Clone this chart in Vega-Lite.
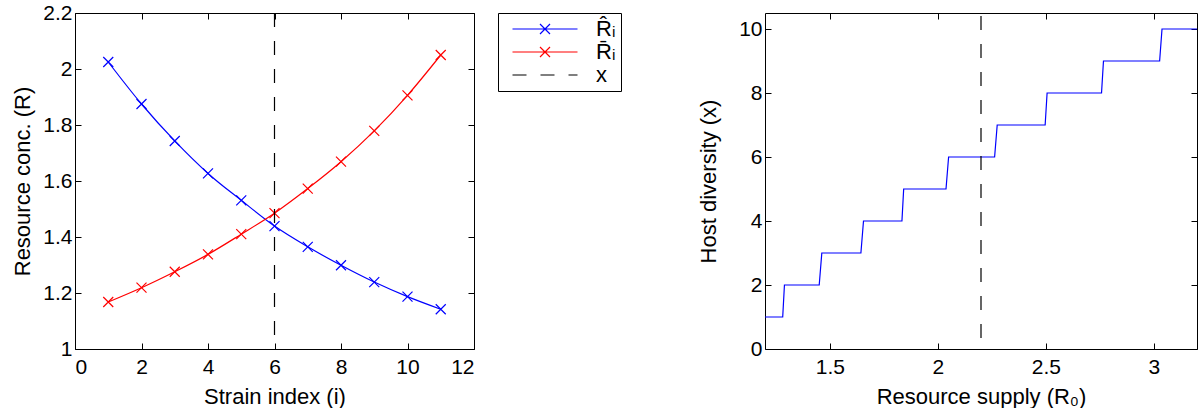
{
  "$schema": "https://vega.github.io/schema/vega-lite/v6.json",
  "background": "white",
  "padding": {"left": 11, "top": 1, "right": 0, "bottom": 0},
  "spacing": 75,
  "datasets": {
    "curves": [
      {"i": 1, "R": 2.025, "series": "R\u0302\u1d62"},
      {"i": 2, "R": 1.875, "series": "R\u0302\u1d62"},
      {"i": 3, "R": 1.743, "series": "R\u0302\u1d62"},
      {"i": 4, "R": 1.627, "series": "R\u0302\u1d62"},
      {"i": 5, "R": 1.531, "series": "R\u0302\u1d62"},
      {"i": 6, "R": 1.439, "series": "R\u0302\u1d62"},
      {"i": 7, "R": 1.365, "series": "R\u0302\u1d62"},
      {"i": 8, "R": 1.299, "series": "R\u0302\u1d62"},
      {"i": 9, "R": 1.239, "series": "R\u0302\u1d62"},
      {"i": 10, "R": 1.187, "series": "R\u0302\u1d62"},
      {"i": 11, "R": 1.142, "series": "R\u0302\u1d62"},
      {"i": 1, "R": 1.168, "series": "R\u0304\u1d62"},
      {"i": 2, "R": 1.219, "series": "R\u0304\u1d62"},
      {"i": 3, "R": 1.276, "series": "R\u0304\u1d62"},
      {"i": 4, "R": 1.338, "series": "R\u0304\u1d62"},
      {"i": 5, "R": 1.41, "series": "R\u0304\u1d62"},
      {"i": 6, "R": 1.485, "series": "R\u0304\u1d62"},
      {"i": 7, "R": 1.573, "series": "R\u0304\u1d62"},
      {"i": 8, "R": 1.669, "series": "R\u0304\u1d62"},
      {"i": 9, "R": 1.779, "series": "R\u0304\u1d62"},
      {"i": 10, "R": 1.906, "series": "R\u0304\u1d62"},
      {"i": 11, "R": 2.05, "series": "R\u0304\u1d62"}
    ],
    "steps": [
      {"R0": 1.2, "x": 1}, {"R0": 1.282, "x": 1},
      {"R0": 1.29, "x": 2}, {"R0": 1.451, "x": 2},
      {"R0": 1.463, "x": 3}, {"R0": 1.644, "x": 3},
      {"R0": 1.656, "x": 4}, {"R0": 1.834, "x": 4},
      {"R0": 1.842, "x": 5}, {"R0": 2.038, "x": 5},
      {"R0": 2.05, "x": 6}, {"R0": 2.263, "x": 6},
      {"R0": 2.275, "x": 7}, {"R0": 2.497, "x": 7},
      {"R0": 2.506, "x": 8}, {"R0": 2.758, "x": 8},
      {"R0": 2.767, "x": 9}, {"R0": 3.027, "x": 9},
      {"R0": 3.038, "x": 10}, {"R0": 3.2, "x": 10}
    ]
  },
  "config": {
    "font": "Liberation Sans",
    "view": {"stroke": "black", "strokeWidth": 1},
    "axis": {
      "domain": false, "grid": false,
      "tickColor": "black", "tickSize": -6, "tickWidth": 1,
      "labelFont": "Liberation Sans", "labelFontSize": 21, "labelColor": "black",
      "titleFont": "Liberation Sans", "titleFontSize": 22, "titleFontWeight": "normal", "titleColor": "black",
      "labelPadding": 9, "titlePadding": 8
    },
    "axisX": {"labelPadding": 13, "titlePadding": 9},
    "legend": {
      "orient": "right", "offset": 23,
      "strokeColor": "black", "fillColor": "white", "padding": 5,
      "labelFont": "Liberation Sans", "labelFontSize": 22, "labelColor": "black",
      "symbolSize": 100, "symbolStrokeWidth": 1.2,
      "symbolOffset": 31, "labelOffset": 40, "rowPadding": 1
    }
  },
  "resolve": {"scale": {"color": "independent"}, "legend": {"color": "independent"}},
  "hconcat": [
    {
      "width": 399, "height": 336,
      "resolve": {"axis": {"x": "independent", "y": "independent"}},
      "layer": [
        {
          "data": {"name": "curves"},
          "mark": {"type": "line", "strokeWidth": 1.2, "interpolate": "monotone"},
          "encoding": {
            "x": {"field": "i", "type": "quantitative", "scale": {"domain": [0, 12], "nice": false},
                  "axis": {"orient": "bottom", "title": "Strain index (i)", "values": [0, 2, 4, 6, 8, 10, 12]}},
            "y": {"field": "R", "type": "quantitative", "scale": {"domain": [1, 2.2], "nice": false, "zero": false},
                  "axis": {"orient": "left", "title": "Resource conc. (R)", "values": [1, 1.2, 1.4, 1.6, 1.8, 2, 2.2], "format": ".1~f"}},
            "color": {"field": "series", "type": "nominal",
                      "scale": {"domain": ["R\u0302\u1d62", "R\u0304\u1d62", "x"], "range": ["#0000ff", "#ff0000", "#000000"]},
                      "legend": {"title": null,
                        "encode": {"symbols": {"update": {
                          "shape": {"signal": "datum.value === 'x' ? 'M-6.5,0L-3.7,0M-0.9,0L1.9,0M4.7,0L6.5,0' : 'M-6.5,0L6.5,0M-1,-1L1,1M1,-1L-1,1'"},
                          "strokeDash": {"value": []},
                          "strokeWidth": {"value": 1.2},
                          "size": {"value": 100},
                          "fill": {"value": "transparent"},
                          "opacity": {"value": 1}
                        }}}}},
            "detail": {"field": "series"}
          }
        },
        {
          "data": {"name": "curves"},
          "mark": {"type": "point", "shape": "M-1,-1L1,1M1,-1L-1,1", "filled": false, "size": 100, "strokeWidth": 1.2, "opacity": 1},
          "encoding": {
            "x": {"field": "i", "type": "quantitative", "axis": {"orient": "top", "title": null, "labels": false, "values": [0, 2, 4, 6, 8, 10, 12]}},
            "y": {"field": "R", "type": "quantitative", "axis": {"orient": "right", "title": null, "labels": false, "values": [1, 1.2, 1.4, 1.6, 1.8, 2, 2.2]}},
            "color": {"field": "series", "type": "nominal"}
          }
        },
        {
          "data": {"values": [{"i": 6, "series": "x"}]},
          "mark": {"type": "rule", "strokeDash": [14, 14], "strokeWidth": 1.2},
          "encoding": {
            "x": {"field": "i", "type": "quantitative", "axis": null},
            "color": {"field": "series", "type": "nominal"}
          }
        }
      ]
    },
    {
      "width": 432, "height": 336,
      "resolve": {"axis": {"x": "independent", "y": "independent"}},
      "layer": [
        {
          "data": {"name": "steps"},
          "mark": {"type": "line", "color": "#0000ff", "strokeWidth": 1.2},
          "encoding": {
            "x": {"field": "R0", "type": "quantitative", "scale": {"domain": [1.2, 3.2], "nice": false, "zero": false},
                  "axis": {"orient": "bottom", "title": "Resource supply (R\u2080)", "values": [1.5, 2, 2.5, 3], "format": "~g"}},
            "y": {"field": "x", "type": "quantitative", "scale": {"domain": [0, 10.5], "nice": false},
                  "axis": {"orient": "left", "title": "Host diversity (x)", "titlePadding": 18, "values": [0, 2, 4, 6, 8, 10]}}
          }
        },
        {
          "data": {"values": [{"R0": 2.2}]},
          "mark": {"type": "rule", "color": "black", "strokeDash": [14, 14], "strokeDashOffset": 17, "strokeWidth": 1.2},
          "encoding": {
            "x": {"field": "R0", "type": "quantitative", "axis": {"orient": "top", "title": null, "labels": false, "values": [1.5, 2, 2.5, 3]}},
            "y": {"datum": 0, "type": "quantitative", "axis": {"orient": "right", "title": null, "labels": false, "values": [0, 2, 4, 6, 8, 10]}},
            "y2": {"datum": 10.5}
          }
        }
      ]
    }
  ]
}
